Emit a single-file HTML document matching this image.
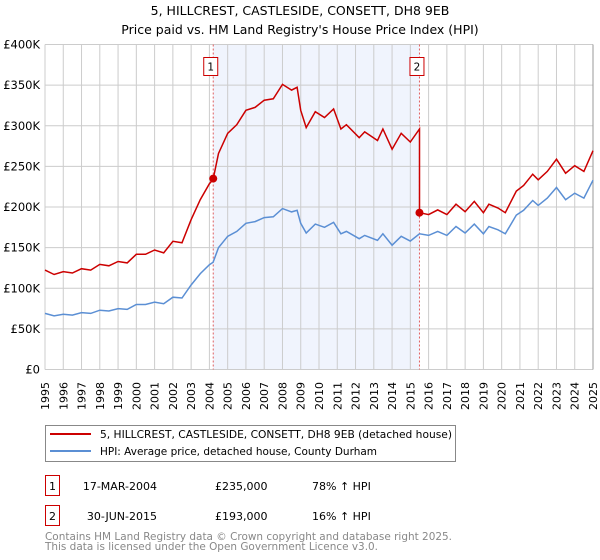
<!DOCTYPE html>
<html><head><meta charset="utf-8"><style>
html,body{margin:0;padding:0;background:#fff;}
svg{display:block;font-family:"DejaVu Sans","Liberation Sans",sans-serif;}
</style></head><body>
<svg id="chart" width="600" height="560" viewBox="0 0 600 560">
<text x="300" y="15" text-anchor="middle" font-size="12.5">5, HILLCREST, CASTLESIDE, CONSETT, DH8 9EB</text>
<text x="300" y="34" text-anchor="middle" font-size="12.5">Price paid vs. HM Land Registry's House Price Index (HPI)</text>
<g id="plot"></g>
<g>
<rect x="45.5" y="425.5" width="410" height="36" fill="#fff" stroke="#888"/>
<line x1="50" y1="434" x2="91" y2="434" stroke="#cc0000" stroke-width="2"/>
<text x="100" y="438" font-size="11" textLength="352" lengthAdjust="spacingAndGlyphs">5, HILLCREST, CASTLESIDE, CONSETT, DH8 9EB (detached house)</text>
<line x1="50" y1="451" x2="91" y2="451" stroke="#5b8fd4" stroke-width="2"/>
<text x="100" y="455" font-size="11" textLength="277" lengthAdjust="spacingAndGlyphs">HPI: Average price, detached house, County Durham</text>
</g>
<g font-size="11">
<rect x="45.5" y="475.5" width="14" height="20" fill="#fff" stroke="#cc0000"/>
<text x="52.5" y="490" text-anchor="middle">1</text>
<text x="157" y="490" text-anchor="end">17-MAR-2004</text>
<text x="215" y="490">£235,000</text>
<text x="312" y="490">78% ↑ HPI</text>
<rect x="45.5" y="505.5" width="14" height="20" fill="#fff" stroke="#cc0000"/>
<text x="52.5" y="520" text-anchor="middle">2</text>
<text x="157" y="520" text-anchor="end">30-JUN-2015</text>
<text x="215" y="520">£193,000</text>
<text x="312" y="520">16% ↑ HPI</text>
</g>
<text x="45" y="540" font-size="11" fill="#888" textLength="407" lengthAdjust="spacingAndGlyphs">Contains HM Land Registry data © Crown copyright and database right 2025.</text>
<text x="45" y="550" font-size="11" fill="#888" textLength="333" lengthAdjust="spacingAndGlyphs">This data is licensed under the Open Government Licence v3.0.</text>
</svg>
<script>
const hpiYears = [1995.0,1995.5,1996.0,1996.5,1997.0,1997.5,1998.0,1998.5,1999.0,1999.5,2000.0,2000.5,2001.0,2001.5,2002.0,2002.5,2003.0,2003.5,2004.0,2004.2,2004.5,2005.0,2005.5,2006.0,2006.5,2007.0,2007.5,2008.0,2008.5,2008.8,2009.0,2009.3,2009.8,2010.3,2010.8,2011.2,2011.5,2012.2,2012.5,2013.2,2013.5,2014.0,2014.5,2015.0,2015.5,2016.0,2016.5,2017.0,2017.5,2018.0,2018.5,2019.0,2019.3,2019.8,2020.2,2020.8,2021.2,2021.7,2022.0,2022.5,2023.0,2023.5,2024.0,2024.5,2025.0];
const hpiValues = [69,66,68,67,70,69,73,72,75,74,80,80,83,81,89,88,104,118,129,132,150,164,170,180,182,187,188,198,194,196,180,168,179,175,181,167,170,161,165,159,167,153,164,158,167,165,170,165,176,168,179,167,176,172,167,190,196,208,202,211,224,209,217,211,233];
const saleYears = [2004.21, 2015.5];
const salePrices = [235, 193];
const yTicks = [0,50,100,150,200,250,300,350,400];
const yTickLabels = ["£0","£50K","£100K","£150K","£200K","£250K","£300K","£350K","£400K"];
const xTicks = [1995,1996,1997,1998,1999,2000,2001,2002,2003,2004,2005,2006,2007,2008,2009,2010,2011,2012,2013,2014,2015,2016,2017,2018,2019,2020,2021,2022,2023,2024,2025];

const NS = "http://www.w3.org/2000/svg";
const g = document.getElementById('plot');
const X0=45, X1=593, Y0=369.5, Y1=44.5;
const xs = y => X0 + (y-1995)/(2025-1995)*(X1-X0);
const ys = v => Y0 - v/400*(Y0-Y1);
function mk(tag, attrs, parent){const e=document.createElementNS(NS,tag);for(const k in attrs)e.setAttribute(k,attrs[k]);(parent||g).appendChild(e);return e;}
function hpiAt(t){for(let i=0;i<hpiYears.length-1;i++){if(t<=hpiYears[i+1]){const f=(t-hpiYears[i])/(hpiYears[i+1]-hpiYears[i]);return hpiValues[i]+f*(hpiValues[i+1]-hpiValues[i]);}}return hpiValues[hpiValues.length-1];}

const shade = mk('rect',{x:xs(saleYears[0]),y:Y1,width:xs(saleYears[1])-xs(saleYears[0]),height:Y0-Y1,fill:'#f0f4fd'});


xTicks.forEach(t=>{
  const l=mk('line',{x1:xs(t),x2:xs(t),y1:Y1,y2:Y0,stroke:'#cccccc','stroke-width':1});
  
  
  const tx=mk('text',{x:0,y:0,'font-size':11,'text-anchor':'end',transform:`translate(${xs(t)+4},382) rotate(-90)`});
  tx.textContent=t;
  
  
});
yTicks.forEach((v,i)=>{
  const l=mk('line',{x1:X0,x2:X1,y1:ys(v),y2:ys(v),stroke:'#cccccc','stroke-width':1});
  
  
  const tx=mk('text',{x:40,y:ys(v)+4,'font-size':11.5,'text-anchor':'end'});
  tx.textContent=yTickLabels[i];
  
  
});
const rb=mk('line',{x1:X1,x2:X1,y1:Y1,y2:Y0,stroke:'#999','stroke-width':1});



saleYears.forEach((s,i)=>{
  const l=mk('line',{x1:xs(s),x2:xs(s),y1:Y1,y2:Y0,stroke:'#e06060','stroke-width':1,'stroke-dasharray':'2,2'});
  
  
  const r=mk('rect',{x:xs(s)-9.5,y:57.5,width:14,height:18,fill:'#fff',stroke:'#cc0000'});
  
  
  const t=mk('text',{x:xs(s)-2.5,y:70.5,'font-size':10.5,'text-anchor':'middle'});
  t.textContent=String(i+1);
});

const hp=mk('path',{d:hpiYears.map((y,i)=>(i?'L':'M')+xs(y).toFixed(1)+','+ys(hpiValues[i]).toFixed(1)).join(''),fill:'none',stroke:'#5b8fd4','stroke-width':1.5});



const r1=salePrices[0]/hpiAt(saleYears[0]), r2=salePrices[1]/hpiAt(saleYears[1]);
let pts=[];
hpiYears.forEach((y,i)=>{ if(y<saleYears[1]) pts.push([y,hpiValues[i]*r1]); });
pts.push([saleYears[1],hpiAt(saleYears[1])*r1]);
pts.push([saleYears[1],salePrices[1]]);
hpiYears.forEach((y,i)=>{ if(y>saleYears[1]) pts.push([y,hpiValues[i]*r2]); });
const pp=mk('path',{d:pts.map((p,i)=>(i?'L':'M')+xs(p[0]).toFixed(1)+','+ys(p[1]).toFixed(1)).join(''),fill:'none',stroke:'#cc0000','stroke-width':1.5});


saleYears.forEach((s,i)=>{
  const c=mk('circle',{cx:xs(s),cy:ys(salePrices[i]),r:4,fill:'#cc0000'});
  
  
});
</script>
</body></html>
